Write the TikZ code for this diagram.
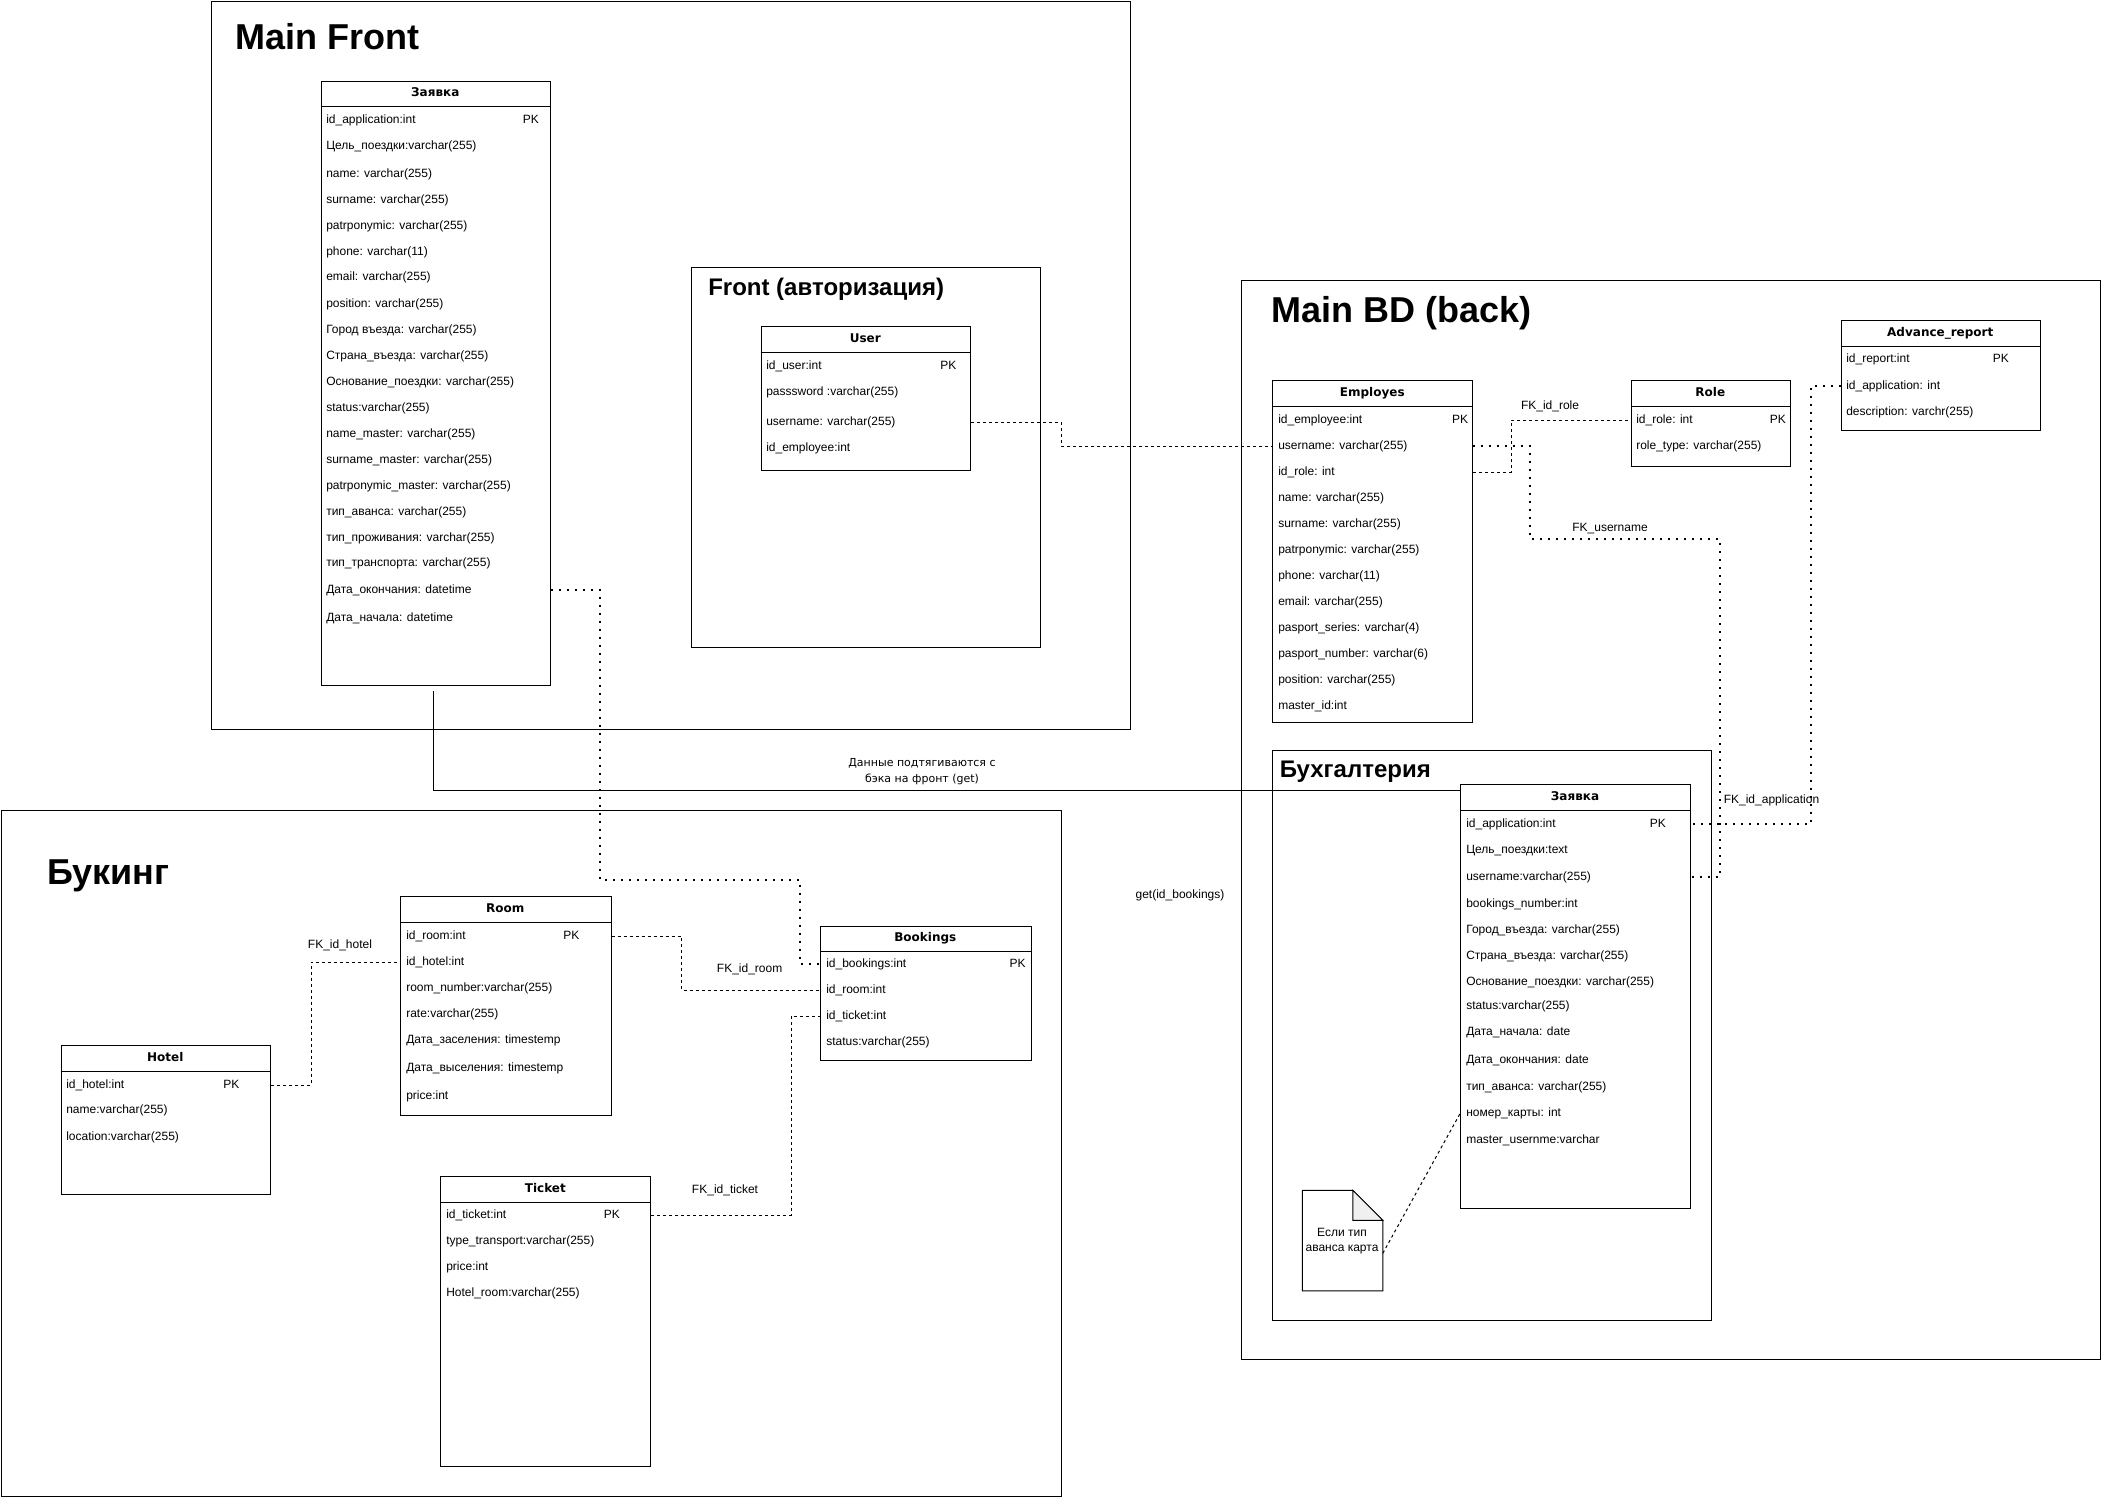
\documentclass[tikz,border=0pt]{standalone}
\usepackage{fontspec}
\setmainfont{Liberation Sans}
\newfontfamily\vfont{DejaVu Sans}
\begin{document}
\begin{tikzpicture}[x=0.75pt,y=-0.75pt,
  frame/.style={draw, line width=0.75pt, inner sep=0, anchor=north west},
  tbl/.style={draw, fill=white, line width=0.75pt, inner sep=0, anchor=north west},
  tline/.style={line width=0.75pt},
  row/.style={anchor=west, inner sep=0, font=\fontsize{9}{10}\selectfont, text height=6.5pt, text depth=1.9pt},
  hdr/.style={inner sep=0, font=\vfont\bfseries\fontsize{9}{10}\selectfont, text height=6.6pt, text depth=1.7pt},
  ttl/.style={anchor=base west, inner sep=0, font=\bfseries\fontsize{27}{30}\selectfont},
  sttl/.style={anchor=base west, inner sep=0, font=\bfseries\fontsize{18}{20}\selectfont},
  lbl/.style={inner sep=0, font=\fontsize{9}{10}\selectfont},
  dashedc/.style={line width=0.75pt, dash pattern=on 2.25pt off 2.25pt},
  dottedc/.style={line width=1.5pt, dash pattern=on 1.5pt off 4.5pt},
  solidc/.style={line width=0.75pt}
]
\newcommand{\erbox}[7]{%
  \node[tbl, minimum width={(#4-#2)*0.75pt}, minimum height={(#5-#3)*0.75pt}] (#1) at (#2,#3) {};
  \draw[tline] (#2,#6) -- (#4,#6);
  \node[hdr] (#1-h) at ({(#2+#4)/2},{(#3+#6)/2}) {#7};
}
\useasboundingbox (0,0) rectangle (2101,1496);
\fill[white] (0,0) rectangle (2101,1496);

% ---------- frames ----------
\node[frame, minimum width={(1130-210.5)*0.75pt}, minimum height={(728.5-0.5)*0.75pt}] (mainfront) at (210.5,0.5) {};
\node[ttl] (mainfront-t) at (235,49) {Main Front};
\node[frame, minimum width={(1040-691)*0.75pt}, minimum height={(646.5-267)*0.75pt}] (frontauth) at (691,267) {};
\node[sttl] (frontauth-t) at (708,295) {Front (авторизация)};
\node[frame, minimum width={(2100-1240.5)*0.75pt}, minimum height={(1359-280)*0.75pt}] (mainbd) at (1240.5,280) {};
\node[ttl] (mainbd-t) at (1271,322) {Main BD (back)};
\node[frame, minimum width={(1710.6-1272)*0.75pt}, minimum height={(1319.7-750.4)*0.75pt}] (buh) at (1272,750.4) {};
\node[sttl] (buh-t) at (1279.5,777) {Бухгалтерия};
\node[frame, minimum width={(1060.6-0.5)*0.75pt}, minimum height={(1495.5-810)*0.75pt}] (booking) at (0.5,810) {};
\node[ttl] (booking-t) at (47,884) {Букинг};

% ---------- Main Front: Заявка ----------
\erbox{zf}{320.6}{80.7}{550}{685.3}{106.7}{Заявка}
\node[row] (zf-r1) at (326,120) {id\_application:int};
\node[row] (zf-pk) at (522.6,120) {PK};
\node[row] (zf-r2) at (326,146) {Цель\_поездки:varchar(255)};
\node[row] (zf-r3) at (326,174) {name: varchar(255)};
\node[row] (zf-r4) at (326,200) {surname: varchar(255)};
\node[row] (zf-r5) at (326,226) {patrponymic: varchar(255)};
\node[row] (zf-r6) at (326,252) {phone: varchar(11)};
\node[row] (zf-r7) at (326,277.5) {email: varchar(255)};
\node[row] (zf-r8) at (326,304) {position: varchar(255)};
\node[row] (zf-r9) at (326,330) {Город въезда: varchar(255)};
\node[row] (zf-r10) at (326,356) {Страна\_въезда: varchar(255)};
\node[row] (zf-r11) at (326,382) {Основание\_поездки: varchar(255)};
\node[row] (zf-r12) at (326,408) {status:varchar(255)};
\node[row] (zf-r13) at (326,434) {name\_master: varchar(255)};
\node[row] (zf-r14) at (326,460) {surname\_master: varchar(255)};
\node[row] (zf-r15) at (326,486) {patrponymic\_master: varchar(255)};
\node[row] (zf-r16) at (326,512) {тип\_аванса: varchar(255)};
\node[row] (zf-r17) at (326,538) {тип\_проживания: varchar(255)};
\node[row] (zf-r18) at (326,563.5) {тип\_транспорта: varchar(255)};
\node[row] (zf-r19) at (326,590) {Дата\_окончания: datetime};
\node[row] (zf-r20) at (326,618) {Дата\_начала: datetime};

% ---------- User ----------
\erbox{user}{760.5}{326}{970}{470}{352.5}{User}
\node[row] (user-r1) at (766,366) {id\_user:int};
\node[row] (user-pk) at (940,366) {PK};
\node[row] (user-r2) at (766,392) {passsword :varchar(255)};
\node[row] (user-r3) at (766,422) {username: varchar(255)};
\node[row] (user-r4) at (766,448) {id\_employee:int};

% ---------- Employes ----------
\erbox{emp}{1272.3}{380}{1472.3}{722}{406}{Employes}
\node[row] (emp-r1) at (1278,420) {id\_employee:int};
\node[row] (emp-pk) at (1451.8,420) {PK};
\node[row] (emp-r2) at (1278,446) {username: varchar(255)};
\node[row] (emp-r3) at (1278,472) {id\_role: int};
\node[row] (emp-r4) at (1278,498) {name: varchar(255)};
\node[row] (emp-r5) at (1278,524) {surname: varchar(255)};
\node[row] (emp-r6) at (1278,550) {patrponymic: varchar(255)};
\node[row] (emp-r7) at (1278,576) {phone: varchar(11)};
\node[row] (emp-r8) at (1278,602) {email: varchar(255)};
\node[row] (emp-r9) at (1278,628) {pasport\_series: varchar(4)};
\node[row] (emp-r10) at (1278,654) {pasport\_number: varchar(6)};
\node[row] (emp-r11) at (1278,680) {position: varchar(255)};
\node[row] (emp-r12) at (1278,706) {master\_id:int};

% ---------- Role ----------
\erbox{role}{1630.5}{380}{1790}{466}{406}{Role}
\node[row] (role-r1) at (1636,420) {id\_role: int};
\node[row] (role-pk) at (1769.7,420) {PK};
\node[row] (role-r2) at (1636,446) {role\_type: varchar(255)};

% ---------- Advance_report ----------
\erbox{adv}{1840.5}{320}{2040}{430}{346}{Advance\_report}
\node[row] (adv-r1) at (1846,359) {id\_report:int};
\node[row] (adv-pk) at (1992.5,359) {PK};
\node[row] (adv-r2) at (1846,386) {id\_application: int};
\node[row] (adv-r3) at (1846,412) {description: varchr(255)};

% ---------- Бухгалтерия: Заявка ----------
\erbox{zb}{1460}{784}{1690}{1207.8}{810}{Заявка}
\node[row] (zb-r1) at (1466,824) {id\_application:int};
\node[row] (zb-pk) at (1649.6,824) {PK};
\node[row] (zb-r2) at (1466,850) {Цель\_поездки:text};
\node[row] (zb-r3) at (1466,877) {username:varchar(255)};
\node[row] (zb-r4) at (1466,904) {bookings\_number:int};
\node[row] (zb-r5) at (1466,930) {Город\_въезда: varchar(255)};
\node[row] (zb-r6) at (1466,956) {Страна\_въезда: varchar(255)};
\node[row] (zb-r7) at (1466,982) {Основание\_поездки: varchar(255)};
\node[row] (zb-r8) at (1466,1006) {status:varchar(255)};
\node[row] (zb-r9) at (1466,1032) {Дата\_начала: date};
\node[row] (zb-r10) at (1466,1060) {Дата\_окончания: date};
\node[row] (zb-r11) at (1466,1087) {тип\_аванса: varchar(255)};
\node[row] (zb-r12) at (1466,1113.6) {номер\_карты: int};
\node[row] (zb-r13) at (1466,1140) {master\_usernme:varchar};

% ---------- note ----------
\node[inner sep=0, minimum width={80*0.75pt}, minimum height={100*0.75pt}, anchor=north west] (note) at (1302.3,1190.3) {};
\draw[tline, fill=white] (note.north west) -- ([xshift=-22.5pt]note.north east) -- ([yshift=-22.5pt]note.north east) -- (note.south east) -- (note.south west) -- cycle;
\draw[tline, fill=black!6] ([xshift=-22.5pt]note.north east) -- ([yshift=-22.5pt]note.north east) -- ([xshift=-22.5pt,yshift=-22.5pt]note.north east) -- cycle;
\node[align=center, inner sep=0, font=\fontsize{9}{11.6}\selectfont] (note-t) at (1342,1241) {Если тип\\аванса карта};

% ---------- Букинг ----------
\erbox{room}{400}{896}{610.5}{1115}{922}{Room}
\node[row] (room-r1) at (406,936) {id\_room:int};
\node[row] (room-pk) at (563,936) {PK};
\node[row] (room-r2) at (406,962) {id\_hotel:int};
\node[row] (room-r3) at (406,988) {room\_number:varchar(255)};
\node[row] (room-r4) at (406,1014) {rate:varchar(255)};
\node[row] (room-r5) at (406,1040) {Дата\_заселения: timestemp};
\node[row] (room-r6) at (406,1068) {Дата\_выселения: timestemp};
\node[row] (room-r7) at (406,1096) {price:int};

\erbox{hotel}{60.6}{1045}{270}{1194}{1071}{Hotel}
\node[row] (hotel-r1) at (66,1085) {id\_hotel:int};
\node[row] (hotel-pk) at (223,1085) {PK};
\node[row] (hotel-r2) at (66,1110) {name:varchar(255)};
\node[row] (hotel-r3) at (66,1137) {location:varchar(255)};

\erbox{bk}{820}{925.6}{1030.6}{1060}{951.6}{Bookings}
\node[row] (bk-r1) at (826,964) {id\_bookings:int};
\node[row] (bk-pk) at (1009.4,964) {PK};
\node[row] (bk-r2) at (826,990) {id\_room:int};
\node[row] (bk-r3) at (826,1016) {id\_ticket:int};
\node[row] (bk-r4) at (826,1042) {status:varchar(255)};

\erbox{tk}{440.4}{1176}{650.3}{1466}{1202}{Ticket}
\node[row] (tk-r1) at (446,1215) {id\_ticket:int};
\node[row] (tk-pk) at (603.5,1215) {PK};
\node[row] (tk-r2) at (446,1241) {type\_transport:varchar(255)};
\node[row] (tk-r3) at (446,1267) {price:int};
\node[row] (tk-r4) at (446,1293) {Hotel\_room:varchar(255)};

% ---------- connector coordinates ----------
\coordinate (fku1) at (1530,539);
\coordinate (fku2) at (1720,539);
\coordinate (fkb1) at (600,880);
\coordinate (fkb2) at (800.4,964);
\coordinate (getline) at (433.6,790);

% ---------- connectors ----------
% User.username -> Employes.username
\draw[dashedc] (user.east |- user-r3) -- ++(90,0) |- (emp.west |- emp-r2);
% FK_id_role
\draw[dashedc] (emp.east |- emp-r3) -- ++(38,0) |- (role.west |- role-r1);
\node[lbl] (lbl-role) at (1550,406) {FK\_id\_role};
% FK_username
\draw[dottedc] (emp.east |- emp-r2) -| (fku1) -- (fku2) |- (zb.east |- zb-r3);
\node[lbl] (lbl-user) at (1610,529) {FK\_username};
% FK_id_application
\draw[dottedc] (adv.west |- adv-r2) -- ++(-30,0) |- (zb.east |- zb-r1);
\node[lbl] (lbl-app) at (1771.5,800) {FK\_id\_application};
% Main Front Заявка -> Bookings
\draw[dottedc] (zf.east |- zf-r19) -| (fkb1) -| (fkb2) -- (bk.west |- bk-r1);
% Data pulled from back to front
\draw[solidc] ([yshift=-3.75pt]zf.south -| getline) -- (getline) -- (zb.west |- getline);
\node[align=center, inner sep=0, font=\vfont\fontsize{8.25}{12}\selectfont] (lbl-data) at (922,772) {Данные подтягиваются с\\бэка на фронт (get)};
% FK_id_hotel
\draw[dashedc] (hotel.east |- hotel-r1) -- ++(40,0) |- (room.west |- room-r2);
\node[lbl] (lbl-hotel) at (340,945) {FK\_id\_hotel};
% FK_id_room
\draw[dashedc] (room.east |- room-r1) -- ++(70,0) |- (bk.west |- bk-r2);
\node[lbl] (lbl-room) at (749.6,969.5) {FK\_id\_room};
% FK_id_ticket
\draw[dashedc] (tk.east |- tk-r1) -- ++(140,0) |- (bk.west |- bk-r3);
\node[lbl] (lbl-ticket) at (725,1190) {FK\_id\_ticket};
% note link
\draw[dashedc] ([yshift=-9.5pt]note.east) -- (zb.west |- zb-r12);
% get(id_bookings)
\node[lbl] (lbl-get) at (1180,895) {get(id\_bookings)};
\end{tikzpicture}
\end{document}
